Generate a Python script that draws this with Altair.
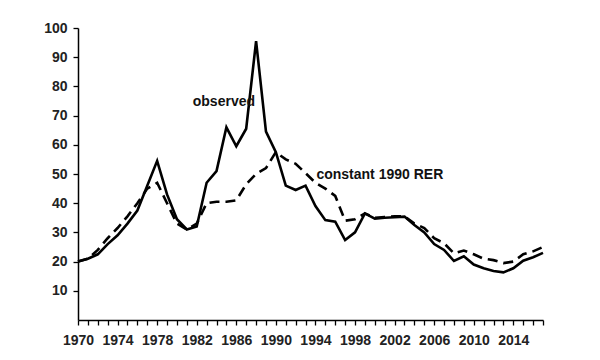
import altair as alt
import pandas as pd

years = list(range(1970, 2018))
observed = [20, 21, 22.5, 26, 29, 33, 37.5, 46, 54.5, 43,
            34.5, 31, 32, 47, 51, 66, 59.5, 65.5, 95.5, 64.5,
            57.5, 46, 44.5, 46, 39, 34.2, 33.7, 27.4, 30, 36.5,
            34.7, 35, 35.2, 35.4, 32.5, 30, 26, 24, 20.2, 21.8,
            19, 17.7, 16.8, 16.3, 17.7, 20.3, 21.5, 23]
constant = [20, 21, 24, 28, 31.5, 35.5, 40, 45, 47, 40,
            33, 31, 33, 40, 40.5, 40.5, 41, 46.5, 50, 52,
            57.5, 55, 53.5, 50.3, 47, 45, 42.5, 34, 34.5, 36.5,
            35, 35.3, 35.5, 35.5, 33, 31.5, 28, 26.3, 22.8, 23.8,
            22.5, 21, 20.5, 19.5, 20, 22.5, 23.5, 25]
y_ticks = list(range(10, 101, 10))

labels = ["observed", "constant 1990 RER"]
label_x = [1981.6, 1994.1]
label_y = [74.8, 49.7]

df = pd.DataFrame({"year": years, "observed": observed, "constant": constant})
ann = pd.DataFrame({"text": labels, "x": label_x, "y": label_y})

FONT = "Liberation Sans"

xscale = alt.Scale(domain=[1970, 2017], nice=False, zero=False)
yscale = alt.Scale(domain=[0, 100], nice=False)


def xaxis():
    return alt.Axis(values=years, format="d",
                    labelExpr="datum.value % 4 == 2 ? datum.label : ''",
                    labelPadding=8, title=None)


def yaxis():
    return alt.Axis(values=y_ticks, labelPadding=6, title=None)


base = alt.Chart(df)
obs = base.mark_line(color="#000", strokeWidth=2.6).encode(
    x=alt.X("year:Q", scale=xscale, axis=xaxis()),
    y=alt.Y("observed:Q", scale=yscale, axis=yaxis()),
)
con = base.mark_line(color="#000", strokeWidth=2.6, strokeDash=[10, 6]).encode(
    x=alt.X("year:Q", scale=xscale, axis=xaxis()),
    y=alt.Y("constant:Q", scale=yscale, axis=yaxis()),
)
txt = alt.Chart(ann).mark_text(align="left", baseline="middle", font=FONT, fontSize=14,
                               fontWeight="bold", color="#111").encode(
    x=alt.X("x:Q", scale=xscale, axis=xaxis()),
    y=alt.Y("y:Q", scale=yscale, axis=yaxis()),
    text="text:N",
)

chart = alt.layer(obs, con, txt).properties(
    width=465, height=292,
    autosize=alt.AutoSizeParams(type="none"),
    padding={"left": 70, "top": 20, "right": 40, "bottom": 32},
    background="white",
).configure_view(strokeWidth=0).configure_axis(
    domain=True, ticks=True, grid=False, tickSize=5,
    domainColor="#000000", domainWidth=1.5, domainOpacity=1,
    tickColor="#000000", tickWidth=1.3, tickOpacity=1,
    labelFont=FONT, labelFontSize=14, labelFontWeight="bold", labelColor="#222222",
    labelOverlap=False, labelFlush=False,
)

chart.save("out.html", embed_options={"renderer": "svg", "actions": False})
